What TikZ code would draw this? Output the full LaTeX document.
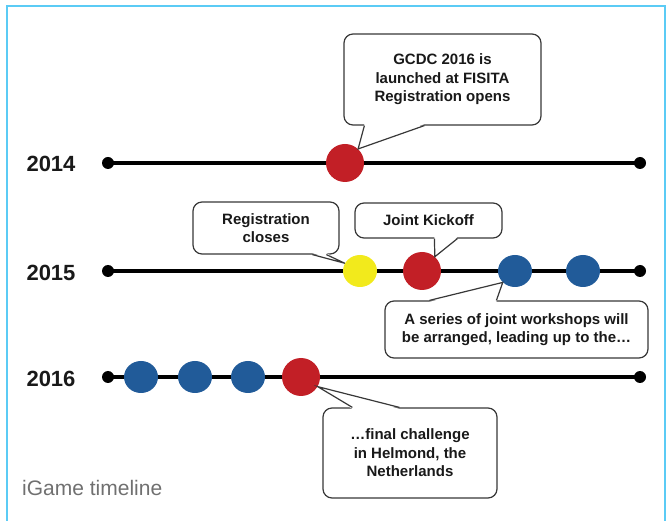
\documentclass[tikz,border=0pt]{standalone}
\usepackage{fontspec}
\setmainfont{Liberation Sans}
\usetikzlibrary{calc,shapes.geometric}
\definecolor{framecol}{HTML}{5BCBF5}
\definecolor{evred}{HTML}{C21F26}
\definecolor{evblue}{HTML}{215B99}
\definecolor{evyellow}{HTML}{F2EA1C}
\definecolor{boxline}{HTML}{383838}
\definecolor{captiongray}{HTML}{707070}
\tikzset{
  tline/.style={line width=4pt, black},
  enddot/.style={circle, fill=black, inner sep=0pt, minimum size=12pt},
  smallev/.style={ellipse, inner sep=0pt, minimum width=34pt, minimum height=32pt},
  bigev/.style={ellipse, inner sep=0pt, minimum width=38pt, minimum height=38pt, fill=evred},
  cbox/.style={draw=boxline, line width=1.2pt, rounded corners=9pt, fill=white,
    align=center, inner sep=0pt, text=black!90,
    font=\bfseries\fontsize{15}{18.5}\selectfont},
  tailline/.style={draw=boxline, line width=1.2pt, line join=miter},
  yearlbl/.style={font=\bfseries\fontsize{22}{24}\selectfont, text=black!90},
}
\begin{document}
\begin{tikzpicture}[x=1pt,y=-1pt]
\useasboundingbox (0,0) rectangle (670,521);
% frame
\draw[framecol, line width=2pt] (7,523) -- (7,6) -- (665,6) -- (665,523);

% year labels
\node[yearlbl] (y14) at (51,164) {2014};
\node[yearlbl] (y15) at (51,273) {2015};
\node[yearlbl] (y16) at (51,379) {2016};

% timelines
\foreach \n/\yy in {a/163,b/271,c/377}{
  \node[enddot] (\n s) at (108,\yy) {};
  \node[enddot] (\n e) at (640,\yy) {};
  \draw[tline] (\n s.center) -- (\n e.center);
}

% events 2014
\node[bigev] (r1) at (345,163) {};
% events 2015
\node[smallev, fill=evyellow] (y1) at (360,271) {};
\node[bigev] (r2) at (422,271) {};
\node[smallev, fill=evblue] (b1) at (515,271) {};
\node[smallev, fill=evblue] (b2) at (583,271) {};
% events 2016
\node[smallev, fill=evblue] (b3) at (141,377) {};
\node[smallev, fill=evblue] (b4) at (195,377) {};
\node[smallev, fill=evblue] (b5) at (248,377) {};
\node[bigev] (r3) at (301,377) {};

% callouts
\node[cbox, minimum width=197pt, minimum height=91pt] (c1) at (442.5,79.5)
  {GCDC 2016 is\\launched at FISITA\\Registration opens};
\fill[white] ($(c1.south west)+(21,-1.5)$) -- (r1.47) -- ($(c1.south west)+(81,-1.5)$) -- cycle;
\draw[tailline] ($(c1.south west)+(21,0)$) -- (r1.47) -- ($(c1.south west)+(81,0)$);

\node[cbox, minimum width=146pt, minimum height=52pt] (c2) at (266,228)
  {Registration\\closes};
\fill[white] ($(c2.south west)+(120,-1.5)$) -- (y1.153) -- ($(c2.south west)+(134,-1.5)$) -- cycle;
\draw[tailline] ($(c2.south west)+(120,0)$) -- (y1.153) -- ($(c2.south west)+(134,0)$);

\node[cbox, minimum width=147pt, minimum height=35pt] (c3) at (428.5,220.5)
  {Joint Kickoff};
\fill[white] ($(c3.south west)+(80,-1.5)$) -- (r2.48) -- ($(c3.south west)+(103,-1.5)$) -- cycle;
\draw[tailline] ($(c3.south west)+(80,0)$) -- (r2.48) -- ($(c3.south west)+(103,0)$);

\node[cbox, minimum width=263pt, minimum height=57pt] (c4) at (516.5,329.5)
  {A series of joint workshops will\\be arranged, leading up to the\ldots};
\fill[white] ($(c4.north west)+(45,1.5)$) -- (b1.223) -- ($(c4.north west)+(112,1.5)$) -- cycle;
\draw[tailline] ($(c4.north west)+(45,0)$) -- (b1.223) -- ($(c4.north west)+(112,0)$);

\node[cbox, minimum width=174pt, minimum height=90pt] (c5) at (410,453)
  {\ldots final challenge\\in Helmond, the\\Netherlands};
\fill[white] ($(c5.north west)+(30,1.5)$) -- (r3.-30) -- ($(c5.north west)+(77,1.5)$) -- cycle;
\draw[tailline] ($(c5.north west)+(30,0)$) -- (r3.-30) -- ($(c5.north west)+(77,0)$);

% caption
\node[anchor=base west, inner sep=0pt, text=captiongray, font=\fontsize{21}{24}\selectfont] (cap) at (22,495) {iGame timeline};
\end{tikzpicture}
\end{document}
